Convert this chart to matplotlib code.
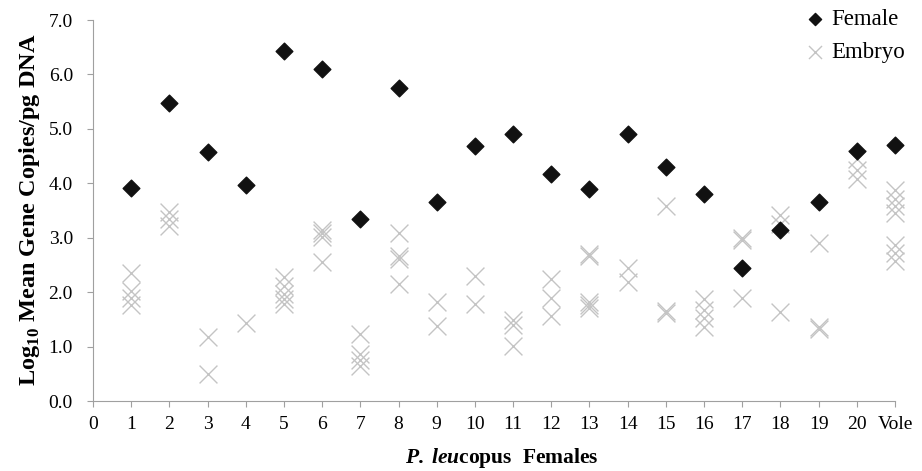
import matplotlib
matplotlib.use('Agg')
import matplotlib.pyplot as plt
import numpy as np

plt.rcParams['font.family'] = ['Liberation Serif', 'DejaVu Serif']
plt.rcParams['mathtext.fontset'] = 'custom'
plt.rcParams['mathtext.rm'] = 'Liberation Serif:bold'
plt.rcParams['mathtext.bfit'] = 'Liberation Serif:italic:bold'

# positions 1..20 are P. leucopus females, 21 is the vole
x_labels = [str(i) for i in range(0, 21)] + ['Vole']

female = [3.91, 5.47, 4.57, 3.97, 6.43, 6.10, 3.34, 5.76, 3.66, 4.69,
          4.90, 4.17, 3.90, 4.91, 4.30, 3.80, 2.45, 3.14, 3.66, 4.60, 4.71]

embryo = {
    1: [2.36, 2.03, 1.90, 1.77],
    2: [3.47, 3.35, 3.21],
    3: [1.18, 0.50],
    4: [1.44],
    5: [2.28, 2.12, 1.96, 1.88, 1.79],
    6: [3.14, 3.08, 3.02, 2.55],
    7: [1.24, 0.86, 0.75, 0.64],
    8: [3.08, 2.66, 2.60, 2.15],
    9: [1.81, 1.38],
    10: [2.30, 1.78],
    11: [1.49, 1.39, 1.01],
    12: [2.24, 1.90, 1.56],
    13: [2.71, 2.66, 1.82, 1.76, 1.70],
    14: [2.45, 2.19],
    15: [3.59, 1.66, 1.62],
    16: [1.88, 1.68, 1.52, 1.36],
    17: [2.99, 2.96, 1.89],
    18: [3.42, 3.26, 1.64],
    19: [2.90, 1.36, 1.33],
    20: [4.45, 4.24, 4.08],
    21: [3.87, 3.72, 3.58, 3.45, 2.87, 2.72, 2.57],
}

ex = [k for k, v in embryo.items() for _ in v]
ey = [y for v in embryo.values() for y in v]

fig = plt.figure(figsize=(9.22, 4.71), dpi=100)
ax = fig.add_axes([0.1009, 0.1486, 0.8698, 0.8089])

ax.scatter(ex, ey, marker='x', s=165, c='#c4c4c4', linewidths=1.0,
           label='Embryo', zorder=2, clip_on=False)
ax.scatter(range(1, 22), female, marker='D', s=72, c='#111111',
           label='Female', zorder=3, clip_on=False)

ax.set_xlim(0, 21)
ax.set_ylim(0, 7)
ax.set_xticks(range(0, 22))
ax.set_xticklabels(x_labels, fontsize=14)
ax.set_yticks(np.arange(0, 7.5, 1.0))
ax.set_yticklabels(['%.1f' % v for v in np.arange(0, 7.5, 1.0)], fontsize=14)

for s in ['top', 'right']:
    ax.spines[s].set_visible(False)
for s in ['left', 'bottom']:
    ax.spines[s].set_color('#a0a0a0')
ax.tick_params(colors='#a0a0a0', labelcolor='black', length=4.5, direction='out')
ax.tick_params(axis='y', pad=10)
ax.tick_params(axis='x', pad=6)

fig.text(29 / 922, 1 - 210 / 471, r'Log$_{10}$ Mean Gene Copies/pg DNA',
         fontsize=17.5, fontweight='bold', rotation=90,
         ha='center', va='center')
fig.text(502 / 922, 1 - 458 / 471, r'$\mathbfit{P.\,leu}$copus  Females',
         fontsize=15.5, fontweight='bold', ha='center', va='center')

h, l = ax.get_legend_handles_labels()
fig.legend(h[::-1], l[::-1], loc='upper left',
           bbox_to_anchor=(804 / 922, 1 - 9 / 471), borderaxespad=0,
           borderpad=0, frameon=False, fontsize=16.5, handletextpad=0.2,
           labelspacing=0.5, handlelength=1.0, markerscale=0.73)

fig.savefig('out.png', dpi=100)
